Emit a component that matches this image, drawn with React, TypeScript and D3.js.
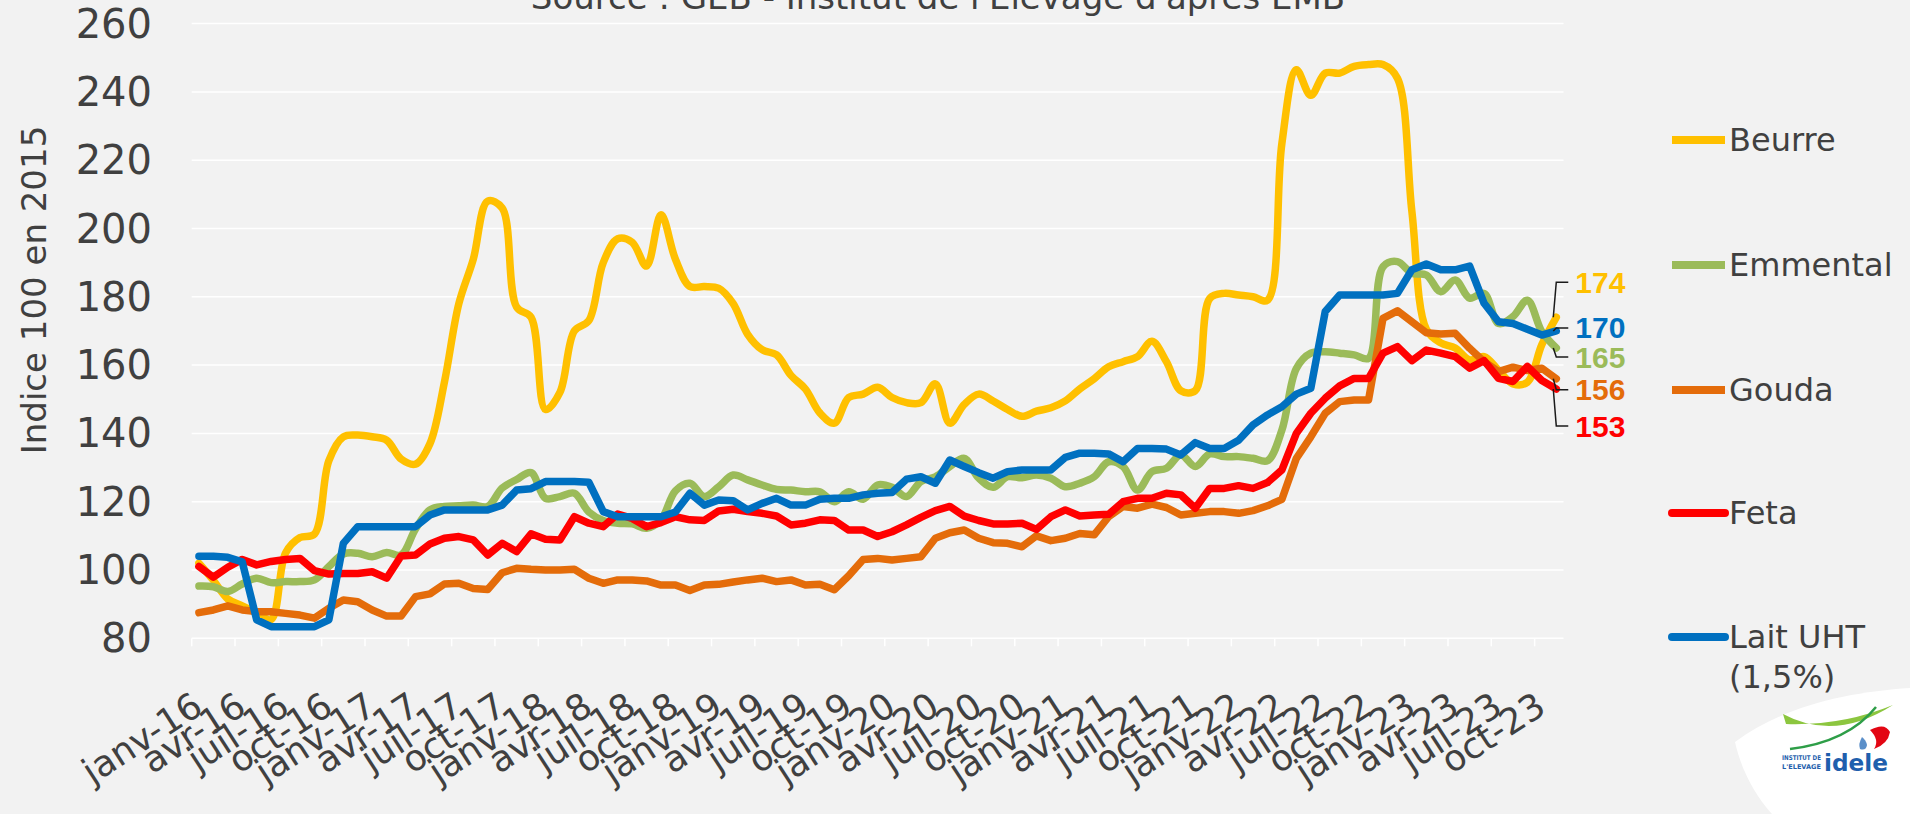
import React from 'react';
import * as d3 from 'd3';

// monthly index, janv-16 .. nov-23 (95 months)
const tickLabels = [
  'janv-16', 'avr-16', 'juil-16', 'oct-16',
  'janv-17', 'avr-17', 'juil-17', 'oct-17',
  'janv-18', 'avr-18', 'juil-18', 'oct-18',
  'janv-19', 'avr-19', 'juil-19', 'oct-19',
  'janv-20', 'avr-20', 'juil-20', 'oct-20',
  'janv-21', 'avr-21', 'juil-21', 'oct-21',
  'janv-22', 'avr-22', 'juil-22', 'oct-22',
  'janv-23', 'avr-23', 'juil-23', 'oct-23',
];

const beurre = [
  102, 97, 91.5, 89.5, 87.5, 85.5, 105, 109.5, 110.5, 132, 139, 139.5,
  139, 138, 132.5, 131, 137, 155, 178, 191, 208, 206, 177, 174,
  147, 152, 170, 173, 190, 197, 196, 189, 204, 191, 183, 183,
  182.5, 178, 169, 164.5, 163, 157, 153, 146, 143, 150.5, 151.5, 153.5,
  150.5, 149, 149, 154.5, 143, 148.5, 151.5, 149.5, 147, 145, 146.5, 147.5,
  149.5, 153, 156, 159.5, 161, 162.5, 167, 161, 152.5, 152.5, 179.5, 181,
  180.5, 180, 179, 225, 246.5, 239, 245.5, 245.5, 247.5, 248, 248, 244,
  205, 170.5, 166.5, 165, 161.5, 162.5, 158.5, 154.5, 155, 166, 174,
];

const emmental = [
  95.3, 95.1, 93.7, 95.9, 97.6, 96.3, 96.6, 96.6, 97.1, 101, 104.7, 104.9,
  103.9, 105.1, 104.4, 112, 117.6, 118.6, 118.8, 119, 118.6, 124, 126.5, 128.5,
  121, 121.5, 122.5, 117, 114.5, 113.7, 113.5, 112.2, 114.7, 123.2, 125.4, 121.5,
  124.4, 127.8, 126.4, 124.9, 123.6, 123.4, 122.9, 122.9, 120, 122.9, 120.7, 124.9,
  124.2, 121.5, 125.9, 127.3, 130.3, 132.7, 126.9, 124.2, 127.3, 127, 127.8, 126.9,
  124.4, 125.4, 127.3, 131.7, 130.3, 123.4, 128.8, 129.8, 133.7, 130.3, 134, 133.2,
  133.2, 132.7, 132, 141, 159, 163.5, 163.9, 163.5, 163, 162, 188.8, 190.3,
  186.9, 186.4, 181.5, 184.9, 179.6, 181, 172.2, 174.2, 179, 169.8, 165,
];

const gouda = [
  87.5, 88.3, 89.5, 88.3, 87.8, 87.8, 87.3, 86.8, 85.9, 88.8, 91.2, 90.7,
  88.3, 86.5, 86.5, 92.2, 93, 95.9, 96.1, 94.6, 94.3, 99.2, 100.5, 100.2,
  100, 100, 100.2, 97.6, 96.1, 97.1, 97.1, 96.8, 95.6, 95.6, 94, 95.6,
  95.8, 96.5, 97.1, 97.6, 96.6, 97.1, 95.6, 95.8, 94.2, 98.3, 103.1, 103.4,
  102.9, 103.4, 103.9, 109.3, 110.9, 111.7, 109.3, 108, 107.8, 106.8, 110, 108.6,
  109.3, 110.7, 110.3, 115.6, 118.6, 118.1, 119.3, 118.3, 116.1, 116.6, 117.1, 117.1,
  116.6, 117.4, 118.8, 120.7, 132.7, 139, 145.9, 149.3, 149.8, 149.8, 173.7, 175.9,
  172.7, 169.5, 169.1, 169.3, 164.9, 161, 158.1, 159.4, 158.4, 159.1, 156,
];

const feta = [
  101, 97.9, 100.8, 103.1, 101.5, 102.5, 103.1, 103.4, 99.8, 98.8, 99, 99,
  99.5, 97.6, 104.1, 104.4, 107.6, 109.3, 109.8, 108.8, 104.4, 107.8, 105.4, 110.6,
  109, 108.8, 115.6, 113.7, 112.7, 116.4, 115.1, 112.7, 113.9, 115.6, 114.7, 114.5,
  117.3, 117.8, 117.1, 116.6, 115.8, 113.2, 113.7, 114.7, 114.5, 111.7, 111.7, 109.8,
  111.2, 113.2, 115.4, 117.4, 118.6, 115.8, 114.5, 113.5, 113.5, 113.7, 111.9, 115.6,
  117.6, 115.8, 116.1, 116.3, 120, 121, 121, 122.5, 122, 118.1, 123.9, 123.9,
  124.7, 123.9, 125.6, 129.3, 140, 145.9, 150.3, 153.9, 156.1, 156.1, 163.5, 165.4,
  161.3, 164.4, 163.5, 162.5, 159.1, 161.3, 156.1, 155.2, 159.6, 155.5, 153,
];

const laitUHT = [
  104, 104, 103.7, 102.4, 85.4, 83.4, 83.4, 83.4, 83.4, 85.4, 107.8, 112.7,
  112.7, 112.7, 112.7, 112.7, 116.1, 117.6, 117.6, 117.6, 117.6, 119, 123.4, 123.8,
  125.9, 125.9, 125.9, 125.7, 117.1, 115.6, 115.6, 115.6, 115.6, 117, 122.5, 119,
  120.5, 120.3, 117.6, 119.5, 121, 119, 119, 120.7, 121, 121, 122, 122.5,
  122.7, 126.6, 127.3, 125.4, 132.2, 130.3, 128.5, 126.9, 128.8, 129.3, 129.3, 129.3,
  133, 134.2, 134.2, 134, 131.7, 135.6, 135.6, 135.4, 133.7, 137.3, 135.6, 135.6,
  138, 142.5, 145.4, 147.8, 151.5, 153.2, 175.7, 180.5, 180.5, 180.5, 180.5, 181,
  187.9, 189.6, 187.9, 187.9, 189, 178.1, 172.7, 172.2, 170.5, 168.8, 170,
];

const seriesNames = ['Beurre', 'Emmental', 'Gouda', 'Feta', 'Lait UHT'];
const seriesColors = ['#FFC000', '#9BBB59', '#E46C0A', '#FF0000', '#0070C0'];
const seriesData = [beurre, emmental, gouda, feta, laitUHT];
const smoothed = [true, true, false, false, false];
// end-label shift (px) from the last point, to avoid overlaps
const labelShift = [-35, 9, 11, 37, -3];

const yTicks = [80, 100, 120, 140, 160, 180, 200, 220, 240, 260];

const W = 1910;
const H = 814;
const plot = { left: 191.7, right: 1563.5, top: 23.6, bottom: 638.3 };
const axisFont = '"DejaVu Sans", sans-serif';
const textColor = '#404040';

export default function App() {
  const n = beurre.length;
  const x = d3.scaleLinear().domain([0, n]).range([plot.left, plot.right]);
  const y = d3.scaleLinear().domain([80, 260]).range([plot.bottom, plot.top]);

  const makeLine = (smooth: boolean) =>
    d3
      .line<number>()
      .x((d, i) => x(i + 0.5))
      .y((d) => y(d))
      .curve(smooth ? d3.curveCatmullRom.alpha(0.5) : d3.curveLinear);

  const legendY = [140, 265, 390, 513, 637];

  return (
    <div>
      <style>{`body{margin:0;background:#F2F2F2;}`}</style>
      <svg width={W} height={H} style={{ display: 'block', background: '#F2F2F2' }}>
        <rect x={0} y={0} width={W} height={H} fill="#F2F2F2" />

        {/* title, cut by the top edge */}
        <text
          x={938}
          y={9}
          textAnchor="middle"
          fontFamily={axisFont}
          fontSize={34}
          fill={textColor}
        >
          Source : GEB - Institut de l'Elevage d'après EMB
        </text>

        {/* grid */}
        <g>
          {yTicks.map((t) => (
            <line
              key={t}
              x1={plot.left}
              x2={plot.right}
              y1={y(t)}
              y2={y(t)}
              stroke="#FFFFFF"
              strokeWidth={1.5}
            />
          ))}
          {tickLabels.map((lab, k) => (
            <line
              key={lab}
              x1={x(3 * k)}
              x2={x(3 * k)}
              y1={plot.bottom}
              y2={plot.bottom + 8}
              stroke="#FFFFFF"
              strokeWidth={1.5}
            />
          ))}
        </g>

        {/* y axis */}
        <g fontFamily={axisFont} fontSize={40} fill={textColor}>
          {yTicks.map((t) => (
            <text key={t} x={152} y={y(t)} textAnchor="end" dominantBaseline="central">
              {t}
            </text>
          ))}
        </g>
        <text
          transform="translate(34,290) rotate(-90)"
          textAnchor="middle"
          dominantBaseline="central"
          fontFamily={axisFont}
          fontSize={34}
          fill={textColor}
        >
          Indice 100 en 2015
        </text>

        {/* x axis labels */}
        <g fontFamily={axisFont} fontSize={36} fill={textColor}>
          {tickLabels.map((lab, k) => (
            <text
              key={lab}
              transform={`translate(${x(3 * k + 0.5) + 6},712) rotate(-33)`}
              textAnchor="end"
            >
              {lab}
            </text>
          ))}
        </g>

        {/* series */}
        {seriesData.map((data, s) => (
          <path
            key={seriesNames[s]}
            d={makeLine(smoothed[s])(data) || ''}
            fill="none"
            stroke={seriesColors[s]}
            strokeWidth={7.5}
            strokeLinejoin="round"
            strokeLinecap="round"
          />
        ))}

        {/* end labels */}
        {seriesData.map((data, s) => {
          const last = data[data.length - 1];
          const ex = x(n - 0.5);
          const ey = y(last);
          const ly = ey + labelShift[s];
          return (
            <g key={seriesNames[s]}>
              <path
                d={`M${ex - 3},${ey} L${ex},${ly} L${ex + 12},${ly}`}
                fill="none"
                stroke="#1a1a1a"
                strokeWidth={1.5}
              />
              <text
                x={ex + 19}
                y={ly}
                dominantBaseline="central"
                fontFamily='"Liberation Sans", Arial, sans-serif'
                fontWeight="bold"
                fontSize={30}
                fill={seriesColors[s]}
              >
                {Math.round(last)}
              </text>
            </g>
          );
        })}

        {/* legend */}
        <g fontFamily={axisFont} fontSize={32} fill={textColor}>
          {seriesNames.map((name, s) => (
            <g key={name}>
              <line
                x1={1672}
                x2={1725}
                y1={legendY[s]}
                y2={legendY[s]}
                stroke={seriesColors[s]}
                strokeWidth={8}
                strokeLinecap={s >= 3 ? 'round' : 'butt'}
              />
              <text x={1729} y={legendY[s]} dominantBaseline="central">
                {name}
              </text>
            </g>
          ))}
          <text x={1729} y={677} dominantBaseline="central">
            (1,5%)
          </text>
        </g>

        {/* logo */}
        <g>
          <path
            d="M1735,742 C1785,705 1850,692 1910,688 L1910,814 L1772,814 C1752,792 1740,765 1735,742 Z"
            fill="#FFFFFF"
          />
          <path d="M1783,714 Q1835,742 1893,705 Q1842,726 1786,724 Z" fill="#8CC63F" />
          <path d="M1790,749 Q1848,742 1876,707" fill="none" stroke="#2E9E48" strokeWidth={2.5} />
          <path d="M1870,730 Q1885,722 1890,732 Q1888,744 1874,749 Q1880,740 1870,730 Z" fill="#E30613" />
          <path d="M1862,737 Q1858,744 1860,749 Q1866,751 1867,745 Q1866,740 1862,737 Z" fill="#5B8FC9" />
          <g fontFamily='"DejaVu Sans", sans-serif' fontWeight="bold" fill="#1F5FAD">
            <text x={1782} y={760} fontSize={6.5} textLength={39} lengthAdjust="spacingAndGlyphs">
              INSTITUT DE
            </text>
            <text x={1782} y={769} fontSize={6.5} textLength={39} lengthAdjust="spacingAndGlyphs">
              L'ELEVAGE
            </text>
            <text x={1824} y={771} fontSize={23} textLength={64} lengthAdjust="spacingAndGlyphs">
              idele
            </text>
          </g>
        </g>
      </svg>
    </div>
  );
}
